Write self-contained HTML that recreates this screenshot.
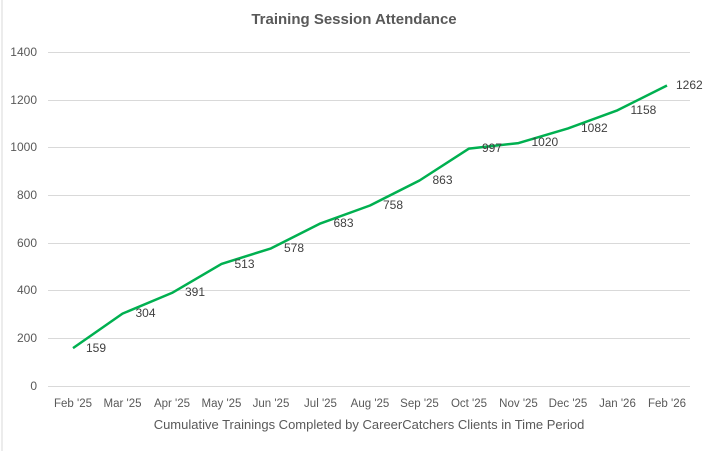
<!DOCTYPE html><html><head><style>body{margin:0;background:#fff}svg{display:block}text{font-family:"Liberation Sans",sans-serif}</style></head><body>
<svg width="709" height="451" viewBox="0 0 709 451">
<rect x="0" y="0" width="709" height="451" fill="#fff"/>
<line x1="2" y1="0" x2="2" y2="451" stroke="#d9d9d9"/>
<text x="354" y="24" text-anchor="middle" font-size="15" font-weight="bold" fill="#595959">Training Session Attendance</text>
<g stroke="#d9d9d9" stroke-width="1">
<line x1="48" x2="690" y1="52.5" y2="52.5"/><line x1="48" x2="690" y1="100.5" y2="100.5"/><line x1="48" x2="690" y1="147.5" y2="147.5"/><line x1="48" x2="690" y1="195.5" y2="195.5"/><line x1="48" x2="690" y1="243.5" y2="243.5"/><line x1="48" x2="690" y1="290.5" y2="290.5"/><line x1="48" x2="690" y1="338.5" y2="338.5"/><line x1="48" x2="690" y1="386.5" y2="386.5"/>
</g>
<g font-size="12" fill="#595959" text-anchor="end">
<text x="37" y="56">1400</text><text x="37" y="104">1200</text><text x="37" y="151">1000</text><text x="37" y="199">800</text><text x="37" y="247">600</text><text x="37" y="294">400</text><text x="37" y="342">200</text><text x="37" y="390">0</text>
</g>
<g font-size="11.5" fill="#595959" text-anchor="middle">
<text x="73" y="407">Feb '25</text><text x="122.5" y="407">Mar '25</text><text x="172" y="407">Apr '25</text><text x="221.5" y="407">May '25</text><text x="271" y="407">Jun '25</text><text x="320.5" y="407">Jul '25</text><text x="370" y="407">Aug '25</text><text x="419.5" y="407">Sep '25</text><text x="469" y="407">Oct '25</text><text x="518.5" y="407">Nov '25</text><text x="568" y="407">Dec '25</text><text x="617.5" y="407">Jan '26</text><text x="667" y="407">Feb '26</text>
</g>
<text x="369" y="429" text-anchor="middle" font-size="13" fill="#595959">Cumulative Trainings Completed by CareerCatchers Clients in Time Period</text>
<polyline fill="none" stroke="#00b050" stroke-width="2.5" stroke-linejoin="round" points="73,348.1 122.5,313.6 172,292.9 221.5,263.9 271,248.4 320.5,223.4 370,205.5 419.5,180.5 469,148.6 518.5,143.1 568,128.4 617.5,110.3 667,85.5"/>
<g font-size="12" fill="#404040">
<text x="86" y="352">159</text><text x="135.5" y="317">304</text><text x="185" y="296">391</text><text x="234.5" y="268">513</text><text x="284" y="252">578</text><text x="333.5" y="227">683</text><text x="383" y="209">758</text><text x="432.5" y="184">863</text><text x="482" y="152">997</text><text x="531.5" y="146">1020</text><text x="581" y="132">1082</text><text x="630.5" y="114">1158</text><text x="676" y="89">1262</text>
</g>
</svg></body></html>
